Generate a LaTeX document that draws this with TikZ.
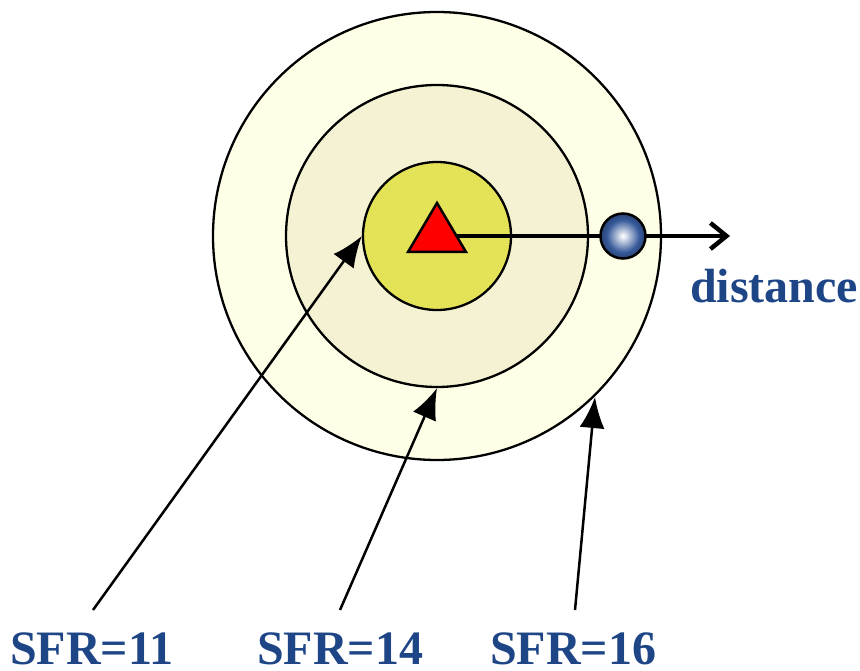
\documentclass[tikz,border=0pt]{standalone}
\usepackage{fontspec}
\setmainfont{Liberation Serif}
\usetikzlibrary{arrows.meta}
\definecolor{outerc}{RGB}{255,255,232}
\definecolor{midc}{RGB}{244,242,210}
\definecolor{innerc}{RGB}{228,227,88}
\definecolor{labc}{RGB}{30,70,135}
\definecolor{ballc}{RGB}{55,90,155}
\pgfdeclareradialshading{ballshade}{\pgfpoint{0bp}{0bp}}{%
  color(0bp)=(white);
  color(3bp)=(white!85!ballc);
  color(10bp)=(ballc!55!white);
  color(18bp)=(ballc);
  color(25bp)=(ballc!75!black);
  color(50bp)=(ballc!75!black)}
\tikzset{
  ring/.style={draw=black, line width=2.3pt},
  lbl/.style={text=labc, font=\fontsize{48}{50}\selectfont\bfseries, inner sep=0pt, anchor=base west},
  pointer/.style={draw=black, line width=2.5pt, arrows={-Latex[length=31pt,width=25pt]}},
}
\begin{document}
\begin{tikzpicture}[x=1pt,y=-1pt]
\useasboundingbox (0,0) rectangle (860,671);
\coordinate (c) at (437,236);
\node[ring, circle, fill=outerc, minimum size=448pt, inner sep=0pt] (outer) at (c) {};
\node[ring, circle, fill=midc, minimum size=302pt, inner sep=0pt] (mid) at (c) {};
\node[ring, circle, fill=innerc, minimum size=148pt, inner sep=0pt] (inner) at (c) {};
\coordinate (tip) at (730,236);
\draw[line width=4.5pt, arrows={-Straight Barb[length=16pt,width=26pt,line width=4.5pt]}] (c) -- (tip);
\draw[line width=2.5pt, fill=red, line join=miter] (437,203) -- (466,252) -- (408,252) -- cycle;
\node[circle, draw=black, line width=2.5pt, minimum size=45pt, inner sep=0pt, shading=ballshade] (ball) at (623,236) {};
\node[lbl] (dist) at (690,302) {distance};
\node[lbl] (s11) at (10,664) {SFR=11};
\node[lbl] (s14) at (257,664) {SFR=14};
\node[lbl] (s16) at (490,664) {SFR=16};
\coordinate (t11) at (93,610);
\coordinate (t14) at (340,610);
\coordinate (t16) at (575,610);
\coordinate (h16) at (595,397);
\draw[pointer] (t11) -- (inner.west);
\draw[pointer] (t14) -- (mid.south);
\draw[pointer] (t16) -- (h16);
\end{tikzpicture}
\end{document}
